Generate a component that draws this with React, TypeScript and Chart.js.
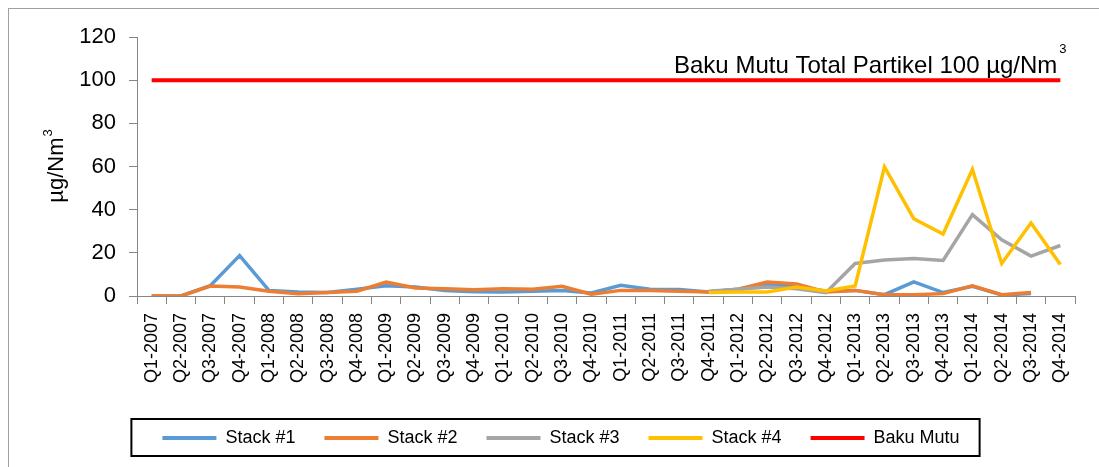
import { useEffect, useRef } from "react";
import { Chart, registerables } from "chart.js";

Chart.register(...registerables);

const categories = [
  "Q1-2007", "Q2-2007", "Q3-2007", "Q4-2007",
  "Q1-2008", "Q2-2008", "Q3-2008", "Q4-2008",
  "Q1-2009", "Q2-2009", "Q3-2009", "Q4-2009",
  "Q1-2010", "Q2-2010", "Q3-2010", "Q4-2010",
  "Q1-2011", "Q2-2011", "Q3-2011", "Q4-2011",
  "Q1-2012", "Q2-2012", "Q3-2012", "Q4-2012",
  "Q1-2013", "Q2-2013", "Q3-2013", "Q4-2013",
  "Q1-2014", "Q2-2014", "Q3-2014", "Q4-2014",
];

const stack1 = [0, 0, 4.8, 18.7, 2.6, 1.9, 1.6, 3.1, 4.7, 4.2, 2.6, 2.0, 1.9, 2.2, 2.6, 1.4, 5.0, 3.1, 3.0, 1.9, 3.1, 5.3, 4.2, 2.3, 2.6, 0.6, 6.5, 1.6, 4.5, 0.5, 1.1, null];
const stack2 = [0, 0, 4.6, 4.2, 2.2, 1.1, 1.6, 2.2, 6.5, 3.7, 3.4, 2.9, 3.4, 3.1, 4.5, 0.8, 2.6, 2.5, 2.2, 1.9, 3.1, 6.5, 5.6, 1.9, 2.6, 0.6, 0.6, 1.1, 4.7, 0.6, 1.6, null];
const stack3 = [null, null, null, null, null, null, null, null, null, null, null, null, null, null, null, null, null, null, null, 2.2, 3.1, 4.2, 3.4, 1.5, 15.1, 16.7, 17.4, 16.5, 37.7, 26.0, 18.5, 23.4];
const stack4 = [null, null, null, null, null, null, null, null, null, null, null, null, null, null, null, null, null, null, null, 1.6, 1.9, 1.9, 4.2, 2.3, 4.7, 59.8, 35.8, 28.7, 58.7, 15.1, 33.8, 14.6];
const bakuMutu = categories.map(() => 100);

const yTicks = [0, 20, 40, 60, 80, 100, 120];

const seriesNames = ["Stack #1", "Stack #2", "Stack #3", "Stack #4", "Baku Mutu"];
const seriesColors = ["#5B9BD5", "#ED7D31", "#A5A5A5", "#FFC000", "#FF0000"];

const annotationText = "Baku Mutu Total Partikel 100 \u00B5g/Nm";
const yTitleText = "\u00B5g/Nm";
const supText = "3";

const FONT = "'Liberation Sans', Arial, sans-serif";
const AXIS_COLOR = "#868686";

const textPlugin = {
  id: "customTexts",
  afterDraw(chart: any) {
    const ctx = chart.ctx;
    const x = chart.scales.x;
    const y = chart.scales.y;
    ctx.save();
    ctx.fillStyle = "#000";
    // annotation above the limit line
    const y100 = y.getPixelForValue(100);
    const rightX = x.getPixelForValue(categories.length - 1) - 3;
    ctx.font = `24px ${FONT}`;
    ctx.textAlign = "right";
    ctx.textBaseline = "alphabetic";
    ctx.fillText(annotationText, rightX, y100 - 7);
    ctx.font = `13px ${FONT}`;
    ctx.textAlign = "left";
    ctx.fillText(supText, rightX + 2, y100 - 27);

    // y axis title (rotated)
    ctx.font = `22px ${FONT}`;
    const wMain = ctx.measureText(yTitleText).width;
    ctx.font = `13px ${FONT}`;
    const wSup = ctx.measureText(supText).width;
    const total = wMain + 1 + wSup;
    ctx.translate(54, 157);
    ctx.rotate(-Math.PI / 2);
    ctx.textAlign = "left";
    ctx.font = `22px ${FONT}`;
    ctx.fillText(yTitleText, -total / 2, 0);
    ctx.font = `13px ${FONT}`;
    ctx.fillText(supText, -total / 2 + wMain + 1, -11);
    ctx.restore();

    // legend frame
    const boxes = chart.legend && chart.legend.legendHitBoxes;
    if (boxes && boxes.length) {
      let minX = Infinity, maxX = -Infinity, cy = 0;
      boxes.forEach((b: any) => {
        minX = Math.min(minX, b.left);
        maxX = Math.max(maxX, b.left + b.width);
        cy = b.top + b.height / 2;
      });
      ctx.save();
      ctx.strokeStyle = "#000";
      ctx.lineWidth = 2;
      ctx.strokeRect(minX - 31, cy - 19, maxX - minX + 51, 37);
      ctx.restore();
    }
  },
};

export default function App() {
  const ref = useRef<HTMLCanvasElement | null>(null);

  useEffect(() => {
    if (!ref.current) return;
    const seriesData = [stack1, stack2, stack3, stack4, bakuMutu];
    const chart = new Chart(ref.current, {
      type: "line",
      data: {
        labels: categories,
        datasets: seriesData.map((d, i) => ({
          label: seriesNames[i],
          data: d,
          borderColor: seriesColors[i],
          backgroundColor: seriesColors[i],
          borderWidth: i === 4 ? 4 : 3.5,
          pointRadius: 0,
          pointHoverRadius: 0,
          tension: 0,
          fill: false,
          spanGaps: false,
          order: 5 - i,
        })),
      },
      options: {
        animation: false,
        responsive: false,
        maintainAspectRatio: false,
        layout: { padding: { top: 28, right: 24, bottom: 32, left: 38 } },
        plugins: {
          tooltip: { enabled: false },
          legend: {
            display: true,
            position: "bottom",
            labels: {
              color: "#000",
              font: { family: FONT, size: 18 },
              boxWidth: 54,
              boxHeight: 4,
              padding: 29,
              sort: (a: any, b: any) => a.datasetIndex - b.datasetIndex,
              generateLabels: (chart: any) =>
                (Chart.defaults.plugins.legend.labels.generateLabels as any)(chart).map((it: any) => ({
                  ...it,
                  lineWidth: 0,
                  fillStyle: seriesColors[it.datasetIndex],
                })),
            },
          },
        },
        scales: {
          x: {
            type: "category",
            offset: true,
            grid: {
              offset: true,
              drawOnChartArea: false,
              drawTicks: true,
              tickLength: 8,
              color: AXIS_COLOR,
            },
            border: { display: true, color: AXIS_COLOR, width: 1 },
            ticks: {
              autoSkip: false,
              minRotation: 90,
              maxRotation: 90,
              padding: 9,
              color: "#000",
              font: { family: FONT, size: 18 },
            },
            afterFit: (scale: any) => {
              scale.height = 104;
            },
          },
          y: {
            min: 0,
            max: 120,
            grid: {
              drawOnChartArea: false,
              drawTicks: true,
              tickLength: 8,
              color: AXIS_COLOR,
            },
            border: { display: true, color: AXIS_COLOR, width: 1 },
            ticks: {
              padding: 13,
              color: "#000",
              font: { family: FONT, size: 22 },
            },
            afterBuildTicks: (scale: any) => {
              scale.ticks = yTicks.map((v) => ({ value: v }));
            },
            afterFit: (scale: any) => {
              scale.width = 90;
            },
          },
        },
      },
      plugins: [textPlugin],
    });
    return () => chart.destroy();
  }, []);

  return (
    <div
      style={{
        position: "fixed",
        left: 8,
        top: 8,
        width: 1091,
        height: 459,
        borderTop: "1px solid #a0a0a0",
        borderLeft: "1px solid #a0a0a0",
        boxSizing: "border-box",
        overflow: "hidden",
        background: "#fff",
      }}
    >
      <canvas
        ref={ref}
        width={1090}
        height={480}
        style={{ display: "block", width: 1090, height: 480 }}
      />
    </div>
  );
}
